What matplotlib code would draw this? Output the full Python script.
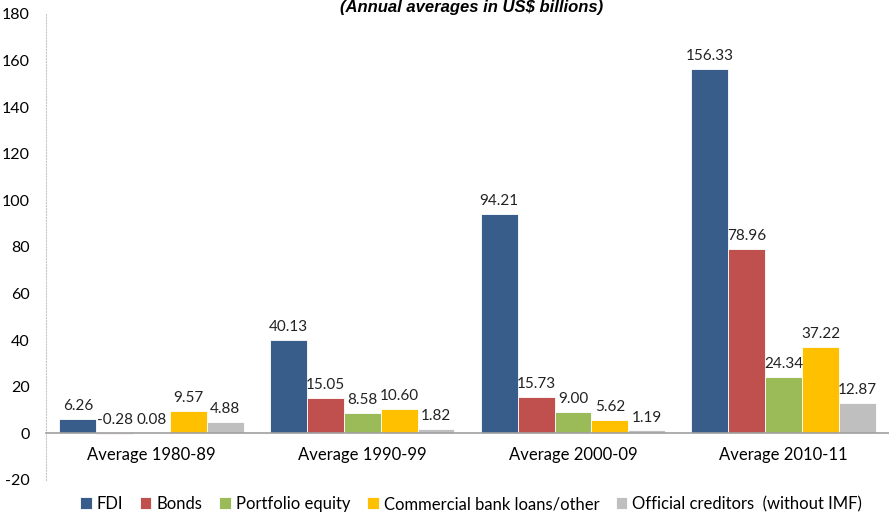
import numpy as np
import matplotlib as mp
mp.use('agg')
import matplotlib.pyplot as plt

# data (US$ billions, annual averages)
categories = ['Average 1980-89', 'Average 1990-99', 'Average 2000-09', 'Average 2010-11']
series_names = ['FDI', 'Bonds', 'Portfolio equity', 'Commercial bank loans/other',
                'Official creditors  (without IMF)']
fdi = [6.26, 40.13, 94.21, 156.33]
bonds = [-0.28, 15.05, 15.73, 78.96]
portfolio = [0.08, 8.58, 9.00, 24.34]
commercial = [9.57, 10.60, 5.62, 37.22]
official = [4.88, 1.82, 1.19, 12.87]
yticks = [-20, 0, 20, 40, 60, 80, 100, 120, 140, 160, 180]

colors = ['#385D8A', '#C0504D', '#9BBB59', '#FFC000', '#BFBFBF']


def main():
    plt.rcParams['font.family'] = ['Lato', 'DejaVu Sans']
    plt.rcParams['axes.unicode_minus'] = False

    fig = plt.figure(figsize=(8.89, 5.17), dpi=100)
    ax = fig.add_axes([0.052, 0.072, 0.948, 0.901])

    x = np.arange(len(categories))
    w = 0.175
    all_series = [fdi, bonds, portfolio, commercial, official]
    for i, (vals, name, c) in enumerate(zip(all_series, series_names, colors)):
        pos = x + (i - 2) * w
        ax.bar(pos, vals, w, color=c, label=name, edgecolor='white', linewidth=0.6)
        for p, v in zip(pos, vals):
            ax.text(p, max(v, 0) + 2.5, '%.2f' % v, ha='center', va='bottom',
                    fontsize=11, color='#222222')

    # axes look like excel: dotted light y-axis, gray category axis at zero
    for s in ['top', 'right']:
        ax.spines[s].set_visible(False)
    ax.spines['left'].set_color('#C8C8C8')
    ax.spines['left'].set_linestyle(':')
    ax.spines['bottom'].set_position(('data', 0))
    ax.spines['bottom'].set_color('#A0A0A0')
    ax.spines['bottom'].set_linewidth(1.2)

    # ticks after set_position, which resets the tick styling
    ax.set_xlim(-0.5, 3.5)
    ax.set_ylim(-20, 180)
    ax.set_yticks(yticks)
    ax.set_xticks(x)
    ax.set_xticklabels(categories)
    ax.tick_params(axis='x', length=0, pad=10, labelsize=12)
    ax.tick_params(axis='y', length=0, pad=12, labelsize=11.5)

    fig.text(0.53, 0.986, '(Annual averages in US$ billions)', ha='center', va='center',
             fontsize=12, fontweight='bold', fontstyle='italic',
             family='Liberation Sans')

    fig.legend(loc='center', bbox_to_anchor=(0.53, 0.025), ncol=5, frameon=False,
               fontsize=12, handlelength=0.7, handleheight=0.7, handletextpad=0.3,
               columnspacing=1.0)

    fig.savefig('out.png', dpi=100)


if __name__ == '__main__':
    main()
